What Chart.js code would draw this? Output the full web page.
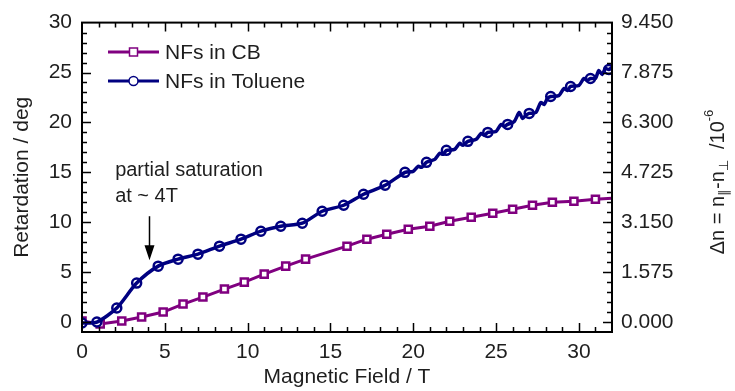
<!DOCTYPE html>
<html>
<head>
<meta charset="utf-8">
<script src="https://cdn.jsdelivr.net/npm/chart.js@4.4.1/dist/chart.umd.min.js"></script>
<style>
  html, body { margin: 0; padding: 0; background: #fff; }
  #wrap { width: 735px; height: 391px; }
</style>
</head>
<body>
<div id="wrap"><canvas id="chart"></canvas></div>
<script>
// Retardation (deg) vs magnetic field (T)
const cbField = [0, 1.1, 2.4, 3.6, 4.9, 6.1, 7.3, 8.6, 9.8, 11.0, 12.3, 13.5, 16.0, 17.2, 18.4, 19.7, 21.0, 22.2, 23.5, 24.8, 26.0, 27.2, 28.4, 29.7, 31.0, 32.0];
const cbRetardation = [0.1, -0.2, 0.1, 0.5, 1.0, 1.8, 2.5, 3.3, 4.0, 4.8, 5.6, 6.3, 7.6, 8.3, 8.8, 9.3, 9.6, 10.1, 10.5, 10.9, 11.3, 11.7, 12.0, 12.1, 12.3, 12.4];

// toluene: marked points
const tolField = [0, 0.9, 2.1, 3.3, 4.6, 5.8, 7.0, 8.3, 9.6, 10.8, 12.0, 13.3, 14.5, 15.8, 17.0, 18.3, 19.5, 20.8, 22.0, 23.3, 24.5, 25.7, 27.0, 28.3, 29.5, 30.7, 31.8];
const tolRetardation = [-0.1, 0.0, 1.4, 3.9, 5.6, 6.3, 6.8, 7.6, 8.3, 9.1, 9.6, 9.9, 11.1, 11.7, 12.8, 13.7, 15.0, 16.0, 17.2, 18.1, 19.0, 19.8, 20.9, 22.6, 23.6, 24.4, 25.3];

// toluene: full measured trace (noisy above ~20 T)
const tolTraceField = [0, 0.9, 2.1, 3.3, 4.6, 5.8, 7.0, 8.3, 9.6, 10.8, 12.0, 13.3, 14.5, 15.8, 17.0, 18.3, 19.5,
  20.0, 20.3, 20.5, 20.8, 21.3, 21.6, 21.8, 22.0, 22.5, 22.8, 23.0, 23.3, 23.8, 24.1, 24.3, 24.5,
  25.0, 25.3, 25.5, 25.7, 26.1, 26.4, 26.6, 26.8, 27.0, 27.4, 27.7, 27.9, 28.1, 28.3,
  28.8, 29.1, 29.3, 29.5, 30.0, 30.3, 30.5, 30.7, 31.0, 31.2, 31.4, 31.6, 31.8, 32.0];
const tolTraceRetardation = [-0.1, 0.0, 1.4, 3.9, 5.6, 6.3, 6.8, 7.6, 8.3, 9.1, 9.6, 9.9, 11.1, 11.7, 12.8, 13.7, 15.0,
  15.1, 15.6, 15.5, 16.0, 16.3, 16.9, 16.8, 17.2, 17.3, 17.9, 17.7, 18.1, 18.3, 18.9, 18.7, 19.0,
  19.1, 19.8, 19.6, 19.8, 20.1, 21.0, 20.4, 20.7, 20.9, 21.0, 22.0, 21.8, 22.4, 22.6,
  22.7, 23.4, 23.2, 23.6, 23.7, 24.4, 24.2, 24.4, 24.4, 25.2, 24.8, 25.4, 25.3, 25.5];

const fieldTicks = [0, 5, 10, 15, 20, 25, 30];
const retTicks = [0, 5, 10, 15, 20, 25, 30];
const dnPerDeg = 0.315; // 10^-6 per degree

const PURPLE = '#800080';
const NAVY = '#000080';
const INK = '#1e1e1e';
const FONT = '"Liberation Sans", Arial, sans-serif';

const xy = (xs, ys) => xs.map((x, i) => ({ x: x, y: ys[i] }));

// frame, inward ticks, legend, annotation and axis titles
const decorations = {
    id: 'decorations',
    afterDatasetsDraw(chart) {
        const ctx = chart.ctx;
        const { left, right, top, bottom } = chart.chartArea;
        const sx = chart.scales.x, sy = chart.scales.y;

        ctx.save();
        ctx.strokeStyle = '#000';
        ctx.lineWidth = 1.5;
        ctx.beginPath();
        for (let v = 1; v < 32; v++) {
            const len = v % 5 === 0 ? 9 : 5;
            const px = Math.round(sx.getPixelForValue(v)) + 0.5;
            ctx.moveTo(px, bottom); ctx.lineTo(px, bottom - len);
            ctx.moveTo(px, top); ctx.lineTo(px, top + len);
        }
        for (let v = 0; v < 30; v++) {
            const len = v % 5 === 0 ? 9 : 5;
            const py = Math.round(sy.getPixelForValue(v)) + 0.5;
            ctx.moveTo(left, py); ctx.lineTo(left + len, py);
            ctx.moveTo(right, py); ctx.lineTo(right - len, py);
        }
        ctx.stroke();

        ctx.lineWidth = 2;
        ctx.strokeRect(left, top, right - left, bottom - top);

        // legend
        const entries = [
            { label: chart.data.datasets[2].label, color: PURPLE, style: 'rect', y: 52 },
            { label: chart.data.datasets[0].label, color: NAVY, style: 'circle', y: 81 }
        ];
        ctx.font = '21px ' + FONT;
        ctx.textBaseline = 'middle';
        ctx.textAlign = 'left';
        entries.forEach(e => {
            ctx.strokeStyle = e.color;
            ctx.lineWidth = 3;
            ctx.beginPath();
            ctx.moveTo(108, e.y); ctx.lineTo(159, e.y);
            ctx.stroke();
            ctx.fillStyle = '#fff';
            ctx.lineWidth = 1.5;
            ctx.beginPath();
            if (e.style === 'rect') ctx.rect(129.5, e.y - 4, 8, 8);
            else ctx.arc(133.5, e.y, 4.5, 0, Math.PI * 2);
            ctx.fill();
            ctx.stroke();
            ctx.fillStyle = INK;
            ctx.fillText(e.label, 165, e.y + 1);
        });

        // annotation with arrow pointing at ~4 T
        ctx.font = '20px ' + FONT;
        ctx.fillStyle = INK;
        const tx = sx.getPixelForValue(2.0);
        ctx.fillText('partial saturation', tx, 170);
        ctx.fillText('at ~ 4T', tx, 196);
        const ax = Math.round(sx.getPixelForValue(4.05)) + 0.5;
        const aTop = sy.getPixelForValue(10.6);
        const aTip = sy.getPixelForValue(6.2);
        ctx.strokeStyle = '#000';
        ctx.lineWidth = 1.5;
        ctx.beginPath();
        ctx.moveTo(ax, aTop); ctx.lineTo(ax, aTip - 10);
        ctx.stroke();
        ctx.fillStyle = '#000';
        ctx.beginPath();
        ctx.moveTo(ax - 5, aTip - 15);
        ctx.lineTo(ax + 5, aTip - 15);
        ctx.lineTo(ax, aTip);
        ctx.closePath();
        ctx.fill();

        // x axis title
        ctx.font = '21px ' + FONT;
        ctx.fillStyle = INK;
        ctx.textAlign = 'center';
        ctx.fillText('Magnetic Field / T', (left + right) / 2, 377);

        // right axis title: Δn = n∥-n⊥ /10^-6
        ctx.translate(718, 182);
        ctx.rotate(-Math.PI / 2);
        const big = '20px ' + FONT, small = '13px ' + FONT;
        const parts = [
            { t: 'Δn = n', f: big, dy: 0 },
            { t: '∥', f: small, dy: 6 },
            { t: '-n', f: big, dy: 0 },
            { t: '⊥', f: small, dy: 6 },
            { t: '  /10', f: big, dy: 0 },
            { t: '-6', f: small, dy: -9 }
        ];
        let total = 0;
        parts.forEach(p => { ctx.font = p.f; p.w = ctx.measureText(p.t).width; total += p.w; });
        let cx = -total / 2;
        ctx.textAlign = 'left';
        parts.forEach(p => {
            ctx.font = p.f;
            ctx.fillText(p.t, cx, p.dy);
            cx += p.w;
        });
        ctx.restore();
    }
};

const tickFont = { family: FONT, size: 21 };
const noGrid = { display: false, drawTicks: false };

new Chart(document.getElementById('chart'), {
    type: 'scatter',
    data: {
        datasets: [
            {
                label: 'NFs in Toluene',
                data: xy(tolTraceField, tolTraceRetardation),
                showLine: true,
                borderColor: NAVY,
                borderWidth: 3.5,
                pointRadius: 0,
                tension: 0.25
            },
            {
                label: 'NFs in Toluene (points)',
                data: xy(tolField, tolRetardation),
                showLine: false,
                borderColor: NAVY,
                backgroundColor: '#fff',
                borderWidth: 2.5,
                pointStyle: 'circle',
                pointRadius: 4.5
            },
            {
                label: 'NFs in CB',
                data: xy(cbField, cbRetardation),
                showLine: true,
                borderColor: PURPLE,
                backgroundColor: '#fff',
                borderWidth: 3,
                pointStyle: 'rect',
                pointRadius: cbField.map(x => (x < 32 ? 5 : 0)),
                pointBorderWidth: 2.5,
                tension: 0
            }
        ]
    },
    options: {
        responsive: true,
        maintainAspectRatio: false,
        animation: false,
        devicePixelRatio: 1,
        layout: { padding: { top: 20, left: 0, right: 0, bottom: 0 } },
        plugins: {
            legend: { display: false },
            tooltip: { enabled: false }
        },
        scales: {
            x: {
                type: 'linear',
                min: 0,
                max: 32,
                grid: noGrid,
                border: { display: false },
                afterBuildTicks: s => { s.ticks = fieldTicks.map(v => ({ value: v })); },
                afterFit: s => { s.height = 59; },
                ticks: { font: tickFont, color: INK, padding: 8, maxRotation: 0 }
            },
            y: {
                min: -1,
                max: 30,
                grid: noGrid,
                border: { display: false },
                afterBuildTicks: s => { s.ticks = retTicks.map(v => ({ value: v })); },
                afterFit: s => { s.width = 82; },
                ticks: { font: tickFont, color: INK, padding: 10 },
                title: {
                    display: true,
                    text: 'Retardation / deg',
                    font: { family: FONT, size: 21 },
                    color: INK,
                    padding: { top: 10, bottom: 0 }
                }
            },
            y2: {
                position: 'right',
                min: -1,
                max: 30,
                grid: noGrid,
                border: { display: false },
                afterBuildTicks: s => { s.ticks = retTicks.map(v => ({ value: v })); },
                afterFit: s => { s.width = 123; },
                ticks: {
                    font: tickFont,
                    color: INK,
                    padding: 9,
                    callback: v => (v * dnPerDeg).toFixed(3)
                }
            }
        }
    },
    plugins: [decorations]
});
</script>
</body>
</html>
